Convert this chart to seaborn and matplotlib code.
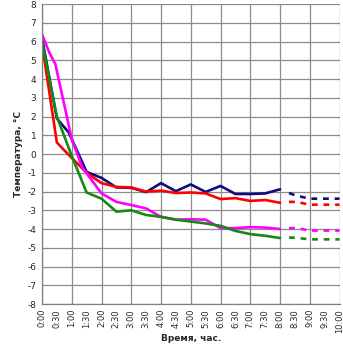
import pandas as pd
import matplotlib
matplotlib.use("Agg")
import matplotlib.pyplot as plt
import seaborn as sns

# время, ч (измерения)
t_blue = [0, 0.5, 0.9, 1.5, 2.0, 2.5, 3.0, 3.5, 4.0, 4.5, 5.0, 5.5, 6.0, 6.5, 7.0, 7.5, 8.0]
blue = [6.2, 1.9, 1.15, -0.95, -1.27, -1.78, -1.8, -2.03, -1.55, -1.98, -1.62, -2.02, -1.7, -2.13, -2.13, -2.1, -1.88]

t_red = [0, 0.5, 0.75, 1.0, 1.5, 2.0, 2.5, 3.0, 3.5, 4.0, 4.5, 5.0, 5.5, 6.0, 6.5, 7.0, 7.5, 8.0]
red = [5.9, 0.62, 0.2, -0.2, -1.0, -1.55, -1.75, -1.78, -2.0, -1.95, -2.08, -2.05, -2.1, -2.4, -2.35, -2.5, -2.45, -2.6]

t_mag = [0, 0.25, 0.45, 1.0, 1.35, 2.0, 2.5, 3.0, 3.5, 4.0, 4.5, 5.0, 5.5, 6.0, 6.5, 7.0, 7.5, 8.0]
mag = [6.4, 5.4, 4.8, 0.8, -0.7, -2.1, -2.55, -2.72, -2.9, -3.35, -3.5, -3.48, -3.5, -3.95, -3.95, -3.9, -3.92, -4.0]

t_green = [0, 0.5, 1.0, 1.5, 2.0, 2.5, 3.0, 3.5, 4.0, 4.5, 5.0, 5.5, 6.0, 6.5, 7.0, 7.5, 8.0]
green = [6.0, 2.0, -0.1, -2.05, -2.38, -3.07, -3.0, -3.25, -3.35, -3.5, -3.6, -3.7, -3.83, -4.1, -4.27, -4.36, -4.48]

# прогноз (пунктир)
t_fc = [8.3, 8.55, 9.0, 9.5, 10.0]
blue_fc = [-2.08, -2.22, -2.38, -2.38, -2.38]
red_fc = [-2.55, -2.55, -2.7, -2.7, -2.7]
mag_fc = [-3.95, -3.95, -4.08, -4.08, -4.08]
green_fc = [-4.45, -4.47, -4.55, -4.55, -4.55]

tick_pos = [i * 0.5 for i in range(21)]
tick_lbl = [f"{int(p)}:{'30' if p % 1 else '00'}" for p in tick_pos]

sns.set_style("white")
plt.rcParams['font.family'] = ['DejaVu Sans']
plt.rcParams['axes.unicode_minus'] = False

fig = plt.figure(figsize=(3.43, 3.45), dpi=100)
ax = fig.add_axes([0.1224, 0.1188, 0.8676, 0.8692])

series = [
    (t_blue, blue, t_fc, blue_fc, "#0D0D80"),
    (t_red, red, t_fc, red_fc, "#FF0000"),
    (t_mag, mag, t_fc, mag_fc, "#FF00FF"),
    (t_green, green, t_fc, green_fc, "#138A13"),
]
for t, v, tf, vf, c in series:
    sns.lineplot(x=t, y=v, ax=ax, color=c, linewidth=1.9)
    sns.lineplot(x=tf, y=vf, ax=ax, color=c, linewidth=1.9, linestyle=(0, (2.2, 2.2)))

ax.set_xlim(0, 10)
ax.set_ylim(-8, 8)
ax.set_yticks(range(-8, 9))
ax.set_xticks(tick_pos)
ax.set_xticklabels(tick_lbl, rotation=90, fontsize=6)
ax.tick_params(axis='y', labelsize=6.5, length=2, color="#808080", pad=2)
ax.tick_params(axis='x', length=2, color="#808080", pad=1.5)
ax.grid(False)
for y in range(-8, 9):
    ax.axhline(y, color="#8c8c8c", linewidth=0.9, zorder=0)
for x in range(11):
    ax.axvline(x, color="#8c8c8c", linewidth=0.9, zorder=0)
for s in ["top", "right"]:
    ax.spines[s].set_visible(False)
for s in ["left", "bottom"]:
    ax.spines[s].set_color("#808080")
    ax.spines[s].set_linewidth(0.9)

ax.set_xlabel("Время, час.", fontsize=6.5, fontweight="bold", labelpad=1)
ax.set_ylabel("Температура, °C", fontsize=6.5, fontweight="bold", labelpad=3)

fig.savefig("out.png", dpi=100)
